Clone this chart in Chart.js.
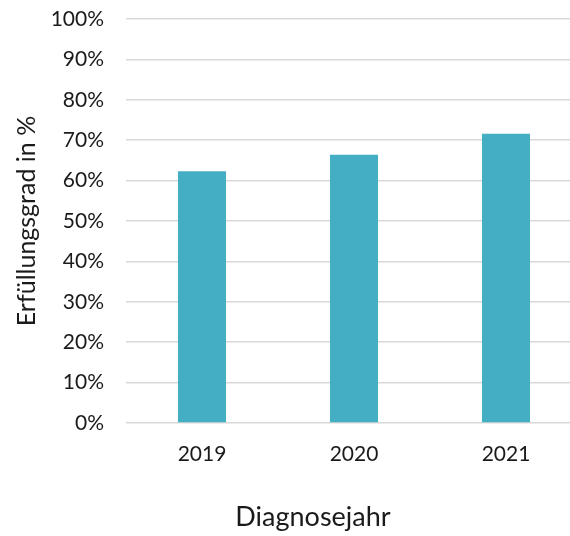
<!DOCTYPE html>
<html>
<head>
<meta charset="utf-8">
<script src="https://cdn.jsdelivr.net/npm/chart.js@4.4.1/dist/chart.umd.min.js"></script>
<style>
  html, body { margin: 0; padding: 0; background: #fff; overflow: hidden; }
  #wrap { width: 570px; height: 536px; overflow: hidden; position: relative; }
  canvas { display: block; }
</style>
</head>
<body>
<div id="wrap"><canvas id="chart" width="582" height="536"></canvas></div>
<script>
const years = ['2019', '2020', '2021'];
const fulfilment = [62.3, 66.4, 71.6];
const yTicks = [0, 10, 20, 30, 40, 50, 60, 70, 80, 90, 100];

const FONT = 'Lato';
const TEXT = '#1a1a1a';

// x axis title sits below the tick labels, a bit left of the axis centre
const xTitle = {
  id: 'xTitle',
  afterDraw(chart) {
    const ctx = chart.ctx;
    ctx.save();
    ctx.font = `27px ${FONT}`;
    ctx.fillStyle = TEXT;
    ctx.textAlign = 'center';
    ctx.textBaseline = 'middle';
    ctx.fillText('Diagnosejahr', 313, 517);
    ctx.restore();
  }
};

new Chart(document.getElementById('chart'), {
  type: 'bar',
  data: {
    labels: years,
    datasets: [{
      data: fulfilment,
      backgroundColor: '#43aec4',
      borderWidth: 0,
      barPercentage: 1,
      categoryPercentage: 0.316,
    }],
  },
  options: {
    responsive: false,
    animation: false,
    devicePixelRatio: 1,
    layout: { padding: { top: 19, left: 0, right: 0, bottom: 0 } },
    plugins: { legend: { display: false }, tooltip: { enabled: false } },
    scales: {
      x: {
        grid: { display: false, drawTicks: false },
        border: { display: false },
        ticks: { color: TEXT, font: { family: FONT, size: 21 }, padding: 19, maxRotation: 0 },
        afterFit: s => { s.height = 113; },
      },
      y: {
        min: 0,
        max: 100,
        afterBuildTicks: s => { s.ticks = yTicks.map(v => ({ value: v })); },
        grid: { color: '#d9d9d9', lineWidth: 1.5, drawTicks: false },
        border: { display: false },
        ticks: {
          color: TEXT,
          font: { family: FONT, size: 21 },
          padding: 22,
          callback: v => v + '%',
        },
        title: {
          display: true,
          text: 'Erfüllungsgrad in %',
          color: TEXT,
          font: { family: FONT, size: 25 },
          padding: { top: 12, bottom: 0 },
        },
        // fixed axis width; tick padding should not push the plot area down
        afterFit: s => {
          s.width = 126;
          s.paddingTop = 0;
          s.paddingBottom = 0;
        },
      },
    },
  },
  plugins: [xTitle],
});
</script>
</body>
</html>
